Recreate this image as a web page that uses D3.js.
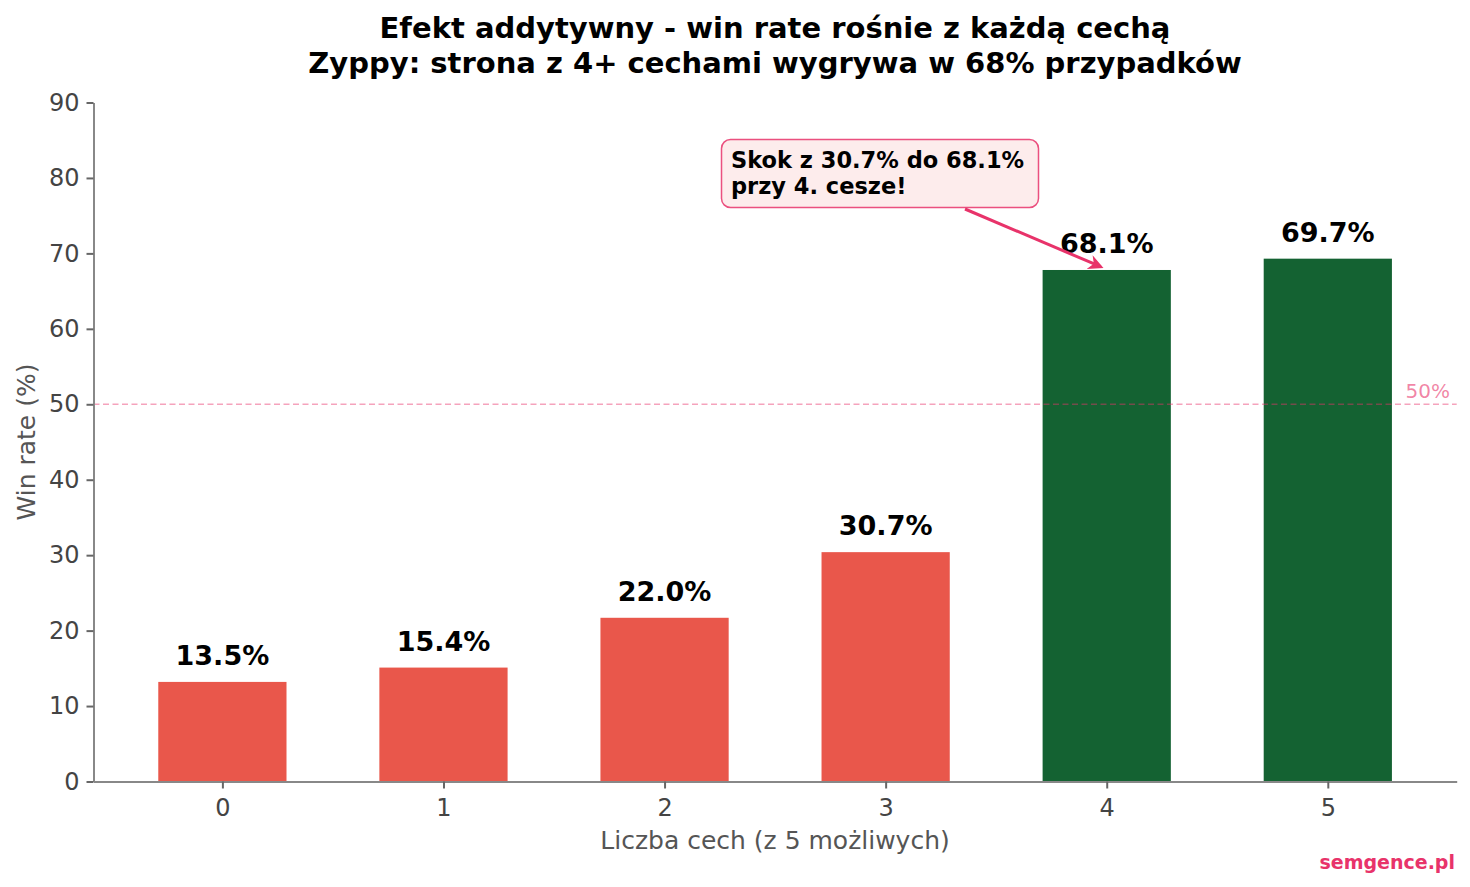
<!DOCTYPE html>
<html>
<head>
<meta charset="utf-8">
<script src="https://cdn.jsdelivr.net/npm/d3@7"></script>
<style>
  html, body { margin: 0; padding: 0; background: #fff; }
  svg { display: block; font-family: "DejaVu Sans", sans-serif; }
</style>
</head>
<body>
<svg id="chart" width="1470" height="887"></svg>
<script>
// chart data
const categories = [0, 1, 2, 3, 4, 5];
const barValues = [13.2, 15.1, 21.7, 30.4, 67.8, 69.3];
const labelValues = [13.5, 15.4, 22.0, 30.7, 68.1, 69.7];
const yTicks = [0, 10, 20, 30, 40, 50, 60, 70, 80, 90];
const threshold = 50;

const svg = d3.select("#chart");
const margin = { left: 93.5, right: 1456.7, top: 102.5, bottom: 781.5 };

const x = d3.scaleLinear().domain([-0.583, 5.583]).range([margin.left, margin.right]);
const y = d3.scaleLinear().domain([0, 90]).range([margin.bottom, margin.top]);
const barW = x(0.58) - x(0);

const red = "#e9574b", green = "#146232", pink = "#e8336a";

// title
const title = svg.append("text").attr("text-anchor", "middle")
  .attr("font-weight", "bold").attr("font-size", 29).attr("fill", "#000");
title.append("tspan").attr("x", 775).attr("y", 38).text("Efekt addytywny - win rate rośnie z każdą cechą");
title.append("tspan").attr("x", 775).attr("y", 73).text("Zyppy: strona z 4+ cechami wygrywa w 68% przypadków");

// bars
svg.append("g").selectAll("rect").data(categories).join("rect")
  .attr("x", d => x(d) - barW / 2)
  .attr("width", barW)
  .attr("y", (d, i) => y(barValues[i]))
  .attr("height", (d, i) => y(0) - y(barValues[i]))
  .attr("fill", (d, i) => d >= 4 ? green : red);

// 50% reference line
svg.append("line")
  .attr("x1", margin.left).attr("x2", margin.right)
  .attr("y1", y(threshold)).attr("y2", y(threshold))
  .attr("stroke", pink).attr("stroke-opacity", 0.45)
  .attr("stroke-width", 1.5).attr("stroke-dasharray", "6,3.5");

svg.append("text")
  .attr("x", 1450).attr("y", y(threshold) - 6)
  .attr("text-anchor", "end").attr("font-size", 20)
  .attr("fill", pink).attr("fill-opacity", 0.6).text("50%");

// value labels
svg.append("g").selectAll("text").data(categories).join("text")
  .attr("x", d => x(d))
  .attr("y", (d, i) => y(barValues[i]) - 17)
  .attr("text-anchor", "middle").attr("font-weight", "bold")
  .attr("font-size", 27).attr("fill", "#000")
  .text((d, i) => labelValues[i].toFixed(1) + "%");

// axes
const xAxis = svg.append("g").attr("transform", `translate(0,${margin.bottom})`)
  .call(d3.axisBottom(x).tickValues(categories).tickFormat(d3.format("d")).tickSize(7).tickSizeOuter(0));
const yAxis = svg.append("g").attr("transform", `translate(${margin.left},0)`)
  .call(d3.axisLeft(y).tickValues(yTicks).tickSize(7).tickSizeOuter(0));

[xAxis, yAxis].forEach(g => {
  g.attr("font-size", 25).attr("font-family", "DejaVu Sans, sans-serif");
  g.select(".domain").attr("stroke", "#888").attr("stroke-width", 2);
  g.selectAll(".tick line").attr("stroke", "#666").attr("stroke-width", 2);
  g.selectAll(".tick text").attr("font-size", 24).attr("fill", "#444");
});
xAxis.selectAll(".tick text").attr("y", 17).attr("dy", "0.71em");
yAxis.selectAll(".tick text").attr("x", -14);

// axis titles
svg.append("text").attr("x", 775).attr("y", 849).attr("text-anchor", "middle")
  .attr("font-size", 25).attr("fill", "#555").text("Liczba cech (z 5 możliwych)");
svg.append("text").attr("transform", "translate(35,442) rotate(-90)")
  .attr("text-anchor", "middle").attr("font-size", 25).attr("fill", "#555").text("Win rate (%)");

// annotation
const defs = svg.append("defs");
defs.append("marker").attr("id", "arrow").attr("viewBox", "0 0 10 10")
  .attr("refX", 8).attr("refY", 5).attr("markerWidth", 5).attr("markerHeight", 5)
  .attr("orient", "auto-start-reverse").attr("markerUnits", "strokeWidth")
  .append("path").attr("d", "M0,0 L10,5 L0,10 L3,5 Z").attr("fill", pink);

svg.append("line")
  .attr("x1", 965).attr("y1", 209)
  .attr("x2", x(4) - 6).attr("y2", y(labelValues[4]) - 1)
  .attr("stroke", pink).attr("stroke-width", 3).attr("marker-end", "url(#arrow)");

svg.append("rect").attr("x", 721.5).attr("y", 139.5).attr("width", 317).attr("height", 68)
  .attr("rx", 9).attr("fill", "#fdecec").attr("stroke", pink).attr("stroke-opacity", 0.85)
  .attr("stroke-width", 1.5);
const ann = svg.append("text").attr("font-weight", "bold").attr("font-size", 22.5).attr("fill", "#000");
ann.append("tspan").attr("x", 731).attr("y", 168).text("Skok z 30.7% do 68.1%");
ann.append("tspan").attr("x", 731).attr("y", 194).text("przy 4. cesze!");

// watermark
svg.append("text").attr("x", 1455).attr("y", 869).attr("text-anchor", "end")
  .attr("font-weight", "bold").attr("font-size", 19).attr("fill", pink).text("semgence.pl");
</script>
</body>
</html>
